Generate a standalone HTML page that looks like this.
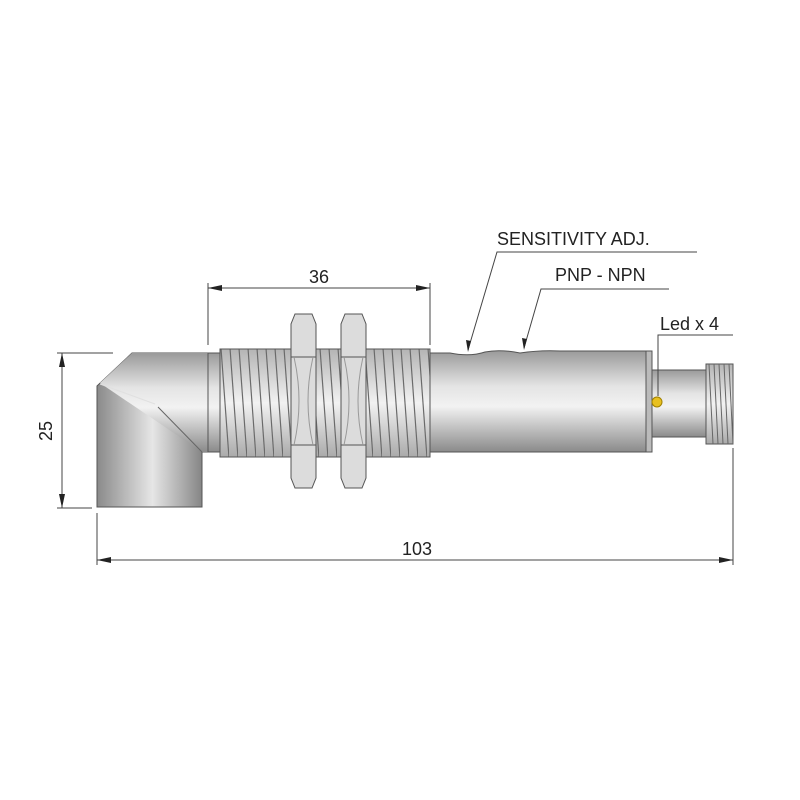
<!DOCTYPE html>
<html><head><style>body{margin:0;background:#fff}svg{display:block}</style></head><body>
<svg width="800" height="800" viewBox="0 0 800 800" xmlns="http://www.w3.org/2000/svg" font-family="Liberation Sans, sans-serif">
<defs>
<linearGradient id="v" x1="0" y1="0" x2="0" y2="1">
<stop offset="0" stop-color="#9a9a9a"/><stop offset="0.35" stop-color="#e4e4e4"/><stop offset="0.55" stop-color="#f2f2f2"/><stop offset="1" stop-color="#8a8a8a"/></linearGradient>
<linearGradient id="h" x1="0" y1="0" x2="1" y2="0">
<stop offset="0" stop-color="#8a8a8a"/><stop offset="0.5" stop-color="#e6e6e6"/><stop offset="1" stop-color="#7a7a7a"/></linearGradient>
<linearGradient id="t" x1="0" y1="0" x2="0" y2="1">
<stop offset="0" stop-color="#b4b4b4"/><stop offset="0.5" stop-color="#f2f2f2"/><stop offset="1" stop-color="#aaaaaa"/></linearGradient>
<pattern id="th" x="220" y="0" width="9" height="800" patternUnits="userSpaceOnUse">
<line x1="1" y1="348" x2="9" y2="458" stroke="#6a6a6a" stroke-width="1.2"/></pattern>
</defs>
<g stroke="#555" stroke-width="1">
<!-- elbow -->
<polygon points="97,386 132,353 208,353 208,452 202,452 202,507 97,507" fill="url(#h)"/>
<path d="M132,353 L208,353 L208,452 L202,452 L100,383 Z" fill="url(#v)" stroke="none"/>
<line x1="100" y1="384" x2="155" y2="404" stroke="#e0e0e0"/>
<line x1="158" y1="407" x2="202" y2="452" stroke="#666"/>
<rect x="208" y="353" width="12" height="99" fill="url(#v)"/>
<!-- thread -->
<rect x="220" y="349" width="210" height="108" fill="url(#t)"/>
<rect x="220" y="349" width="210" height="108" fill="url(#th)" stroke="#555"/>
<!-- nuts -->
<g fill="#dcdcdc">
<polygon points="295,314 312,314 316,324 316,478 312,488 295,488 291,478 291,324"/>
<polygon points="345,314 362,314 366,324 366,478 362,488 345,488 341,478 341,324"/>
<line x1="291" y1="357" x2="316" y2="357"/><line x1="291" y1="445" x2="316" y2="445"/>
<line x1="341" y1="357" x2="366" y2="357"/><line x1="341" y1="445" x2="366" y2="445"/>
<path d="M294,357 Q304,401 294,445 M313,357 Q303,401 313,445 M344,357 Q354,401 344,445 M363,357 Q353,401 363,445" fill="none" stroke="#999"/>
</g>
<!-- body -->
<path d="M430,353 L450,353 Q470,357 485,352 Q500,349 520,353 Q540,350 560,351 L648,351 L648,452 L430,452 Z" fill="url(#v)"/>
<rect x="646" y="351" width="6" height="101" fill="#bbb"/>
<rect x="652" y="370" width="56" height="67" fill="url(#v)"/>
<rect x="706" y="364" width="27" height="80" fill="url(#t)"/>
<g stroke="#666"><line x1="709" y1="364" x2="713" y2="444"/><line x1="714" y1="364" x2="718" y2="444"/><line x1="719" y1="364" x2="723" y2="444"/><line x1="724" y1="364" x2="728" y2="444"/><line x1="729" y1="364" x2="733" y2="444"/></g>
<circle cx="657" cy="402" r="5" fill="#e8c020" stroke="#a08000"/>
</g>
<!-- dimensions -->
<g stroke="#444" stroke-width="1" fill="none">
<line x1="208" y1="283" x2="208" y2="345"/><line x1="430" y1="283" x2="430" y2="345"/>
<line x1="208" y1="288" x2="430" y2="288"/>
<line x1="57" y1="353" x2="113" y2="353"/><line x1="57" y1="508" x2="92" y2="508"/>
<line x1="62" y1="353" x2="62" y2="508"/>
<line x1="97" y1="513" x2="97" y2="565"/><line x1="733" y1="448" x2="733" y2="565"/>
<line x1="97" y1="560" x2="733" y2="560"/>
<polyline points="697,252 497,252 468,350"/>
<polyline points="669,289 541,289 524,348"/>
<polyline points="733,335 658,335 658,396"/>
</g>
<g fill="#222">
<polygon points="208,288 222,285 222,291"/><polygon points="430,288 416,285 416,291"/>
<polygon points="62,353 59,367 65,367"/><polygon points="62,508 59,494 65,494"/>
<polygon points="97,560 111,557 111,563"/><polygon points="733,560 719,557 719,563"/>
<polygon points="468,352 466,340 471,341"/><polygon points="524,350 522,338 527,339"/>
</g>
<g font-size="18" fill="#222">
<text x="319" y="283" text-anchor="middle">36</text>
<text x="417" y="555" text-anchor="middle">103</text>
<text transform="translate(52,431) rotate(-90)" text-anchor="middle">25</text>
<text x="497" y="245">SENSITIVITY ADJ.</text>
<text x="555" y="281">PNP - NPN</text>
<text x="660" y="330">Led x 4</text>
</g>
</svg>
</body></html>
